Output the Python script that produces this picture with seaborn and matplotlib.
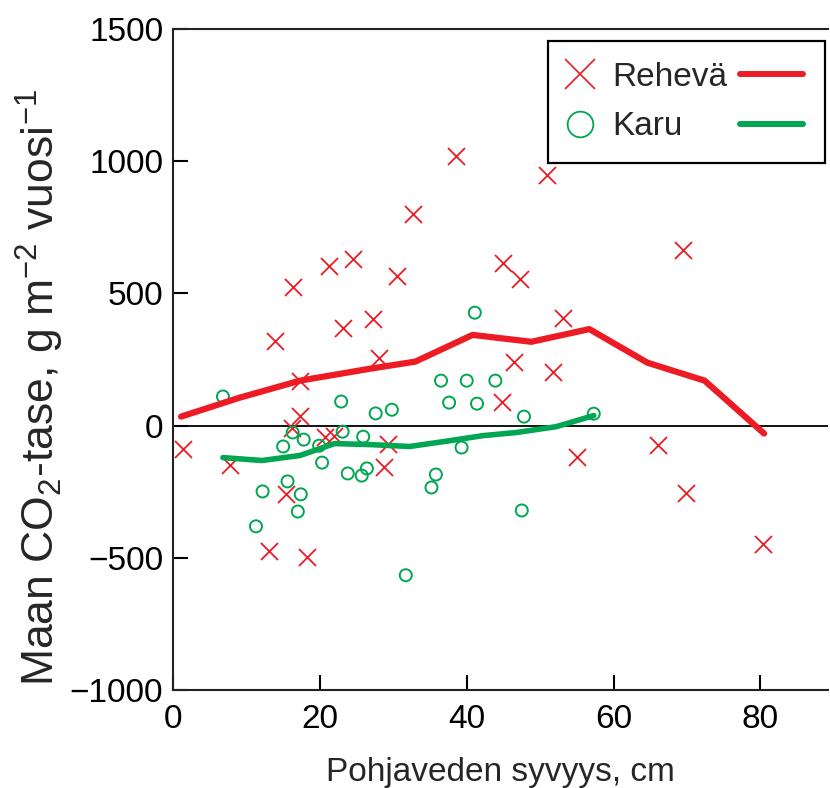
import numpy as np
import pandas as pd
import matplotlib
matplotlib.use("Agg")
import matplotlib.pyplot as plt
import seaborn as sns
from matplotlib.lines import Line2D
from matplotlib.markers import MarkerStyle
from matplotlib.legend_handler import HandlerLine2D

# ---------------- data ----------------
rehea_x = [1.4, 7.8, 13.1, 13.9, 15.4, 16.3, 16.2, 17.3, 17.3, 18.2, 20.7, 21.9,
           21.2, 23.2, 24.5, 27.3, 28.0, 28.7, 29.3, 30.5, 32.7, 38.6, 44.8, 44.9,
           46.4, 47.3, 51.0, 51.8, 53.1, 55.0, 66.0, 69.4, 69.9, 80.4]
rehea_y = [-87, -148, -474, 321, -260, 525, -8, 38, 170, -498, -45, -40,
           604, 368, 631, 404, 257, -158, -68, 566, 801, 1020, 91, 615,
           242, 555, 948, 201, 408, -117, -72, 665, -256, -446]

karu_x = [6.8, 11.3, 12.2, 15.0, 15.6, 16.3, 17.0, 17.4, 17.8, 19.9, 20.3, 22.9,
          23.1, 23.8, 25.7, 25.9, 26.4, 27.6, 29.8, 31.7, 35.2, 35.8, 36.5, 37.6,
          39.3, 40.0, 41.1, 41.4, 43.9, 47.5, 47.8, 57.3]
karu_y = [110, -381, -249, -79, -211, -26, -325, -260, -53, -76, -140, 91,
          -23, -181, -189, -42, -162, 46, 60, -566, -234, -185, 170, 87,
          -83, 170, 427, 83, 170, -321, 34, 45]

rehea_line_x = [1.1, 9.0, 17.3, 26.8, 33.0, 40.8, 48.8, 56.7, 64.6, 72.4, 80.5]
rehea_line_y = [34, 105, 170, 215, 242, 343, 317, 365, 238, 170, -30]

karu_line_x = [6.8, 12.1, 17.3, 22.0, 27.0, 32.2, 37.0, 42.2, 46.8, 52.2, 57.3]
karu_line_y = [-121, -132, -113, -68, -72, -79, -60, -38, -26, -4, 38]

series_labels = ["Rehevä", "Karu"]
x_ticks = [0, 20, 40, 60, 80]
y_ticks = [-1000, -500, 0, 500, 1000, 1500]
x_label = "Pohjaveden syvyys, cm"
y_label = "Maan CO$_2$-tase, g m$^{-2}$ vuosi$^{-1}$"

RED = "#ED1C24"
GREEN = "#00A651"

# ---------------- style ----------------
sns.set_theme(style="white")
plt.rcParams["font.family"] = ["Liberation Sans", "DejaVu Sans"]
plt.rcParams["mathtext.fontset"] = "custom"
plt.rcParams["mathtext.rm"] = "Liberation Sans"
plt.rcParams["mathtext.it"] = "Liberation Sans:italic"
plt.rcParams["mathtext.bf"] = "Liberation Sans:bold"

FS = 24

fig = plt.figure(figsize=(8.3, 7.88), dpi=100)
ax = fig.add_axes([173 / 830, (788 - 690) / 788, 655 / 830, 661 / 788])

df_r = pd.DataFrame({"x": rehea_x, "y": rehea_y})
df_k = pd.DataFrame({"x": karu_x, "y": karu_y})
df_rl = pd.DataFrame({"x": rehea_line_x, "y": rehea_line_y})
df_kl = pd.DataFrame({"x": karu_line_x, "y": karu_line_y})

ax.axhline(0, color="black", lw=1.3, zorder=1)

sns.scatterplot(data=df_r, x="x", y="y", marker="x", s=150, color=RED,
                linewidth=1.3, ax=ax, zorder=3, legend=False)
sns.scatterplot(data=df_k, x="x", y="y", marker=MarkerStyle("o", fillstyle="none"),
                s=75, color=GREEN, linewidth=1.4, ax=ax, zorder=3, legend=False)
sns.lineplot(data=df_rl, x="x", y="y", sort=False, color=RED, lw=4.5,
             ax=ax, zorder=4, legend=False)
sns.lineplot(data=df_kl, x="x", y="y", sort=False, color=GREEN, lw=4.0,
             ax=ax, zorder=4, legend=False)

ax.set_xlim(0, 89.2)
ax.set_ylim(-1000, 1500)
ax.set_xticks(x_ticks)
ax.set_yticks(y_ticks)
ax.set_yticklabels([str(v).replace("-", "\u2212") for v in y_ticks])
ax.tick_params(axis="both", direction="in", length=11, width=1.5,
               labelsize=FS, colors="black", left=True, bottom=True)
ax.tick_params(axis="x", pad=10)
ax.tick_params(axis="y", pad=7)

for side in ["left", "bottom", "top"]:
    ax.spines[side].set_visible(True)
    ax.spines[side].set_color("#222222")
    ax.spines[side].set_linewidth(1.5)
ax.spines["right"].set_visible(False)

ax.set_xlabel(x_label, fontsize=FS, labelpad=16)
ax.set_ylabel(y_label, fontsize=32)
ax.yaxis.set_label_coords(-0.163, 0.457)


# ---------------- legend ----------------
class LongLine(HandlerLine2D):
    def get_xdata(self, legend, xdescent, ydescent, width, height, fontsize):
        xd = [-xdescent - 0.85 * width, -xdescent + 1.78 * width]
        return xd, [-xdescent + 0.5 * width]


h_r = Line2D([], [], ls="none", marker="x", ms=21, mew=1.2, color=RED)
h_k = Line2D([], [], ls="none", marker="o", ms=18.5, mew=1.3, mfc="none",
             color=GREEN)
l_r = Line2D([], [], color=RED, lw=4.3)
l_k = Line2D([], [], color=GREEN, lw=4.3)

leg = ax.legend(handles=[h_r, h_k, l_r, l_k],
                labels=[series_labels[0], series_labels[1], "", ""],
                ncol=2, loc="upper right", bbox_to_anchor=(0.996, 0.982),
                borderaxespad=0, fontsize=FS, frameon=True, fancybox=False,
                borderpad=0.62, handlelength=0.72, handletextpad=0.6,
                columnspacing=1.0, labelspacing=0.56,
                handler_map={l_r: LongLine(), l_k: LongLine()})
leg.get_frame().set_edgecolor("black")
leg.get_frame().set_linewidth(1.6)
leg.get_frame().set_alpha(1)

fig.savefig("out.png", dpi=100)
